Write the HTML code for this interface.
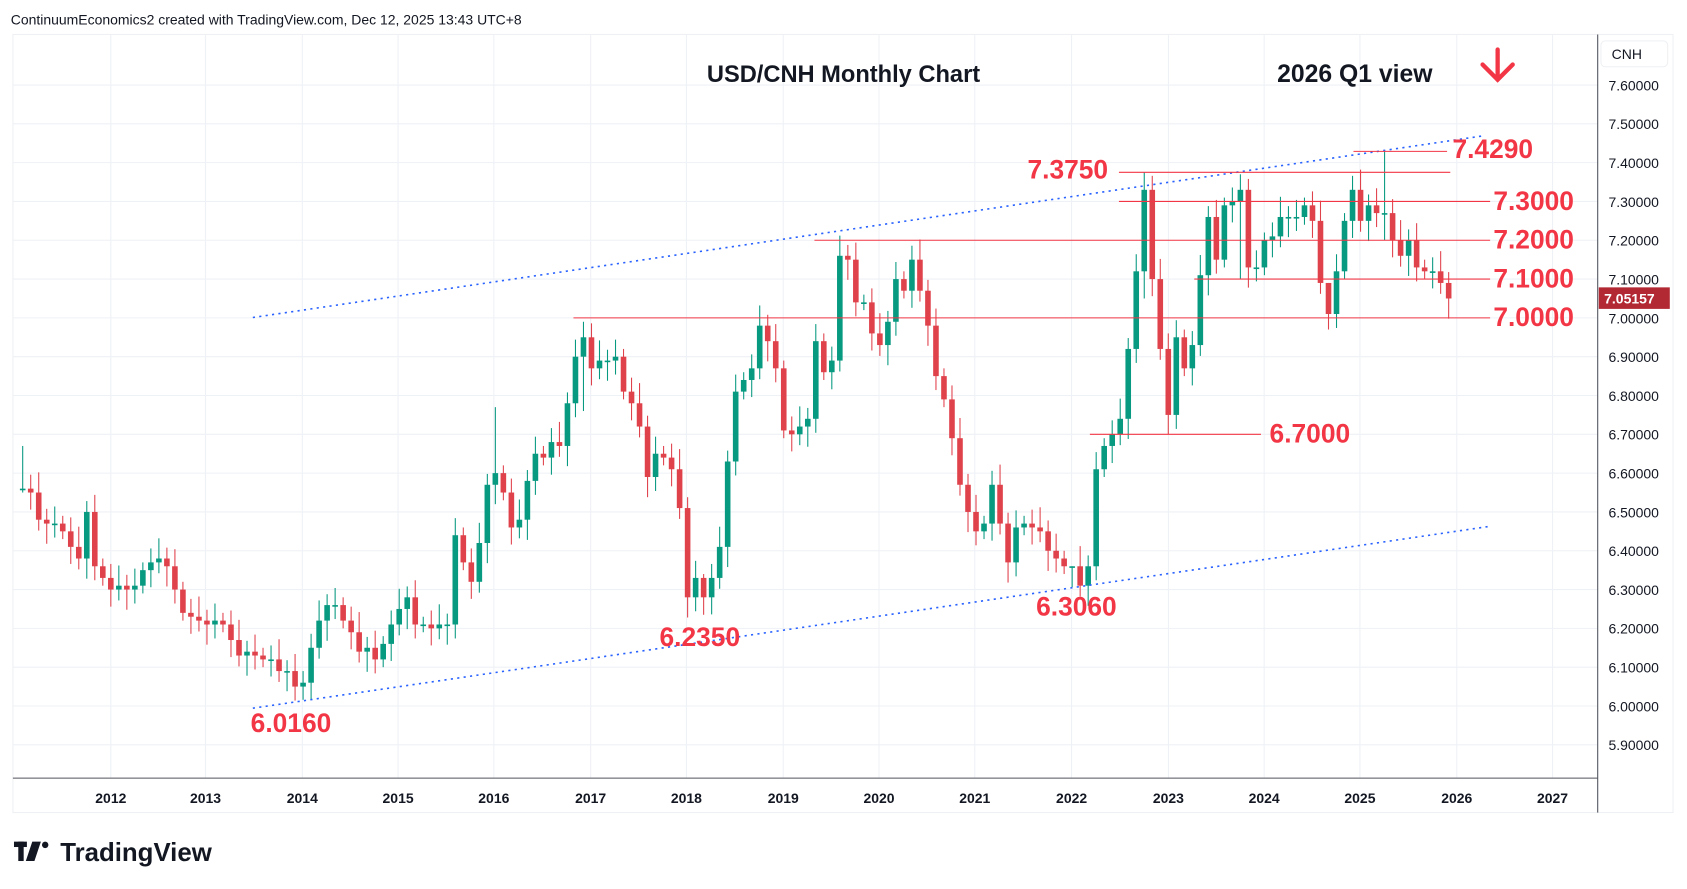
<!DOCTYPE html>
<html><head><meta charset="utf-8"><style>
html,body{margin:0;padding:0;background:#fff;}
svg{display:block;font-family:"Liberation Sans",sans-serif;}
</style></head><body>
<svg id="c" width="1687" height="889" viewBox="0 0 1568 826" preserveAspectRatio="none" xmlns="http://www.w3.org/2000/svg">
<rect x="0" y="0" width="1568" height="826" fill="#fff"/>
<rect x="12" y="32" width="1543" height="723" fill="#fff" stroke="#eef0f3"/>
<g id="grid"></g>
<line x1="1485" y1="32" x2="1485" y2="755" stroke="#50535e" stroke-width="1"/>
<line x1="12" y1="723" x2="1485" y2="723" stroke="#50535e" stroke-width="1"/>
<g id="candles"></g>
<g id="ov"></g>
<text x="10" y="23" font-size="13" fill="#131722">ContinuumEconomics2 created with TradingView.com, Dec 12, 2025 13:43 UTC+8</text>
<text x="657" y="76" font-size="22" font-weight="bold" fill="#131722">USD/CNH Monthly Chart</text>
<text x="1187" y="76" font-size="23" font-weight="bold" fill="#131722">2026 Q1 view</text>
<g stroke="#f23645" stroke-width="4" fill="none" stroke-linecap="round"><line x1="1392" y1="46" x2="1392" y2="74"/><polyline points="1378,60 1392,74 1406,60"/></g>
<rect x="1488" y="38" width="62" height="24" rx="4" fill="#fff" stroke="#eef0f3"/>
<text x="1498" y="55" font-size="13" fill="#131722">CNH</text>
<rect x="1486" y="267" width="66" height="20" fill="#b22833"/>
<text x="1491" y="282" font-size="13" font-weight="bold" fill="#fff">7.05157</text>
<rect x="13" y="782" width="12" height="5" fill="#131722"/>
<rect x="17" y="782" width="5" height="18" fill="#131722"/>
<polygon points="30,782 38,782 32,800 24,800" fill="#131722"/>
<circle cx="42" cy="785" r="3" fill="#131722"/>
<text x="56" y="800" font-size="24" font-weight="bold" fill="#131722">TradingView</text>
</svg>
<script>
var NS="http://www.w3.org/2000/svg";
function el(p,t,a,txt){var e=document.createElementNS(NS,t);for(var k in a)e.setAttribute(k,a[k]);if(txt!==undefined)e.textContent=txt;document.getElementById(p).appendChild(e);return e;}
function Y(p){return 79+(7.6-p)*360.6;}
function X(i){return 103+(i-11)*7.446;}
for(var k=0;k<=18;k++){var p=5.8+k*0.1;var y=Y(p);if(y>32&&y<723){el("grid","line",{x1:12,x2:1485,y1:y,y2:y,stroke:"#eef1f6"});}
 if(p>=5.85&&p<=7.65)el("grid","text",{x:1495,y:y+5,"font-size":13,fill:"#131722"},p.toFixed(5));}
var yrs=[[2012,103],[2013,191],[2014,281],[2015,370],[2016,459],[2017,549],[2018,638],[2019,728],[2020,817],[2021,906],[2022,996],[2023,1086],[2024,1175],[2025,1264],[2026,1354],[2027,1443]];
yrs.forEach(function(a){el("grid","line",{x1:a[1],x2:a[1],y1:32,y2:723,stroke:"#eef1f6"});el("grid","text",{x:a[1],y:746,"font-size":13,"font-weight":"bold",fill:"#131722","text-anchor":"middle"},a[0]);});
var c=[6.56,6.55,6.48,6.47,6.47,6.45,6.41,6.38,6.50,6.36,6.33,
6.30,6.31,6.30,6.31,6.35,6.37,6.38,6.36,6.30,6.24,6.23,6.22,
6.21,6.22,6.21,6.17,6.13,6.14,6.13,6.12,6.12,6.09,6.09,6.05,
6.06,6.15,6.22,6.26,6.26,6.22,6.19,6.14,6.15,6.12,6.16,6.21,
6.25,6.28,6.21,6.21,6.20,6.21,6.21,6.44,6.37,6.32,6.42,6.57,
6.60,6.55,6.46,6.48,6.58,6.65,6.64,6.68,6.67,6.78,6.90,6.95,
6.87,6.89,6.89,6.90,6.81,6.78,6.72,6.59,6.65,6.64,6.61,6.51,
6.28,6.33,6.28,6.33,6.41,6.63,6.81,6.84,6.87,6.98,6.94,6.87,
6.71,6.70,6.72,6.74,6.94,6.86,6.89,7.16,7.15,7.04,7.04,6.96,
6.93,6.99,7.10,7.07,7.15,7.07,6.98,6.85,6.79,6.69,6.57,6.50,
6.45,6.47,6.57,6.47,6.37,6.46,6.47,6.46,6.45,6.40,6.38,6.36,
6.36,6.31,6.36,6.61,6.67,6.70,6.74,6.92,7.12,7.33,7.10,6.92,
6.75,6.95,6.87,6.93,7.11,7.26,7.15,7.29,7.30,7.33,7.13,7.13,
7.20,7.21,7.26,7.26,7.26,7.29,7.25,7.09,7.01,7.12,7.25,7.33,
7.25,7.29,7.27,7.27,7.20,7.16,7.20,7.13,7.12,7.12,7.09,7.05];
var spec={0:[6.67,6.55],59:[6.77,6.52],70:[6.99,6.76],85:[6.34,6.235],35:[6.09,6.016],131:[6.33,6.306],140:[7.375,7.05],143:[6.96,6.70],152:[7.37,7.1],163:[7.05,6.97],170:[7.429,7.2]};
for(var i=0;i<c.length;i++){var cl=c[i];var op=i==0?6.56:c[i-1];var hi=Math.max(op,cl)+0.02+((i*37)%5)*0.008,lo=Math.min(op,cl)-0.02-((i*53)%5)*0.008;
 if(spec[i]){hi=spec[i][0];lo=spec[i][1];hi=Math.max(hi,op,cl);lo=Math.min(lo,op,cl);}
 var col=cl>=op?"#089981":"#e0424c";var x=X(i);
 el("candles","line",{x1:x,x2:x,y1:Y(hi),y2:Y(lo),stroke:col,"stroke-width":1});
 var t=Y(Math.max(op,cl)),b=Y(Math.min(op,cl));if(b-t<1.5)b=t+1.5;
 el("candles","rect",{x:x-2.6,y:t,width:5.2,height:b-t,fill:col});}
el("ov","line",{x1:235,y1:295,x2:1380,y2:126,stroke:"#2962ff","stroke-width":1.5,"stroke-dasharray":"2 4"});
el("ov","line",{x1:235,y1:658,x2:1385,y2:489,stroke:"#2962ff","stroke-width":1.5,"stroke-dasharray":"2 4"});
var lv=[[7.429,1258,1345],[7.375,1040,1348],[7.30,1040,1385],[7.20,757,1385],[7.10,1110,1385],[7.00,533,1385],[6.70,1013,1172]];
lv.forEach(function(a){el("ov","line",{x1:a[1],x2:a[2],y1:Y(a[0]),y2:Y(a[0]),stroke:"#f23645","stroke-width":1});});
var lb=[["7.4290",1350,147],["7.3750",955,166],["7.3000",1388,195],["7.2000",1388,231],["7.1000",1388,267],["7.0000",1388,303],["6.7000",1180,411],["6.2350",613,600],["6.3060",963,572],["6.0160",233,680]];
lb.forEach(function(a){el("ov","text",{x:a[1],y:a[2],"font-size":24.5,"font-weight":"bold",fill:"#f23645"},a[0]);});
</script>
</body></html>
